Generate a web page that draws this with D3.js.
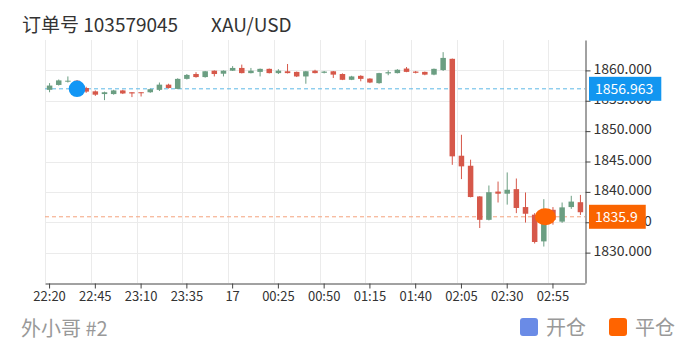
<!DOCTYPE html>
<html>
<head>
<meta charset="utf-8">
<style>
  body { margin: 0; background: #fff; }
  svg { font-family: "Microsoft YaHei", "Noto Sans CJK SC", sans-serif; }
</style>
</head>
<body>
<div id="chart"></div>
<script src="https://d3js.org/d3.v7.min.js"></script>
<script>
// 5 minute candles, 22:20 -> 03:10
const times = [
  "22:20","22:25","22:30","22:35","22:40","22:45","22:50","22:55","23:00","23:05",
  "23:10","23:15","23:20","23:25","23:30","23:35","23:40","23:45","23:50","23:55",
  "00:00","00:05","00:10","00:15","00:20","00:25","00:30","00:35","00:40","00:45",
  "00:50","00:55","01:00","01:05","01:10","01:15","01:20","01:25","01:30","01:35",
  "01:40","01:45","01:50","01:55","02:00","02:05","02:10","02:15","02:20","02:25",
  "02:30","02:35","02:40","02:45","02:50","02:55","03:00","03:05","03:10"
];
const opens = [
  1856.8, 1857.6, 1858.2, 1858.3, 1857.1, 1856.55, 1856.1, 1856.1, 1856.7, 1856.4,
  1856.4, 1856.4, 1856.8, 1857.65, 1856.95, 1858.6, 1859.4, 1858.9, 1859.95, 1859.45,
  1859.95, 1860.4, 1859.55, 1859.75, 1860.25, 1859.55, 1859.85, 1859.75, 1859.0, 1859.95,
  1859.6, 1859.85, 1859.4, 1858.45, 1859.1, 1858.65, 1857.9, 1859.5, 1859.55, 1860.3,
  1859.8, 1859.75, 1859.3, 1860.05, 1861.9, 1845.95, 1844.3, 1839.25, 1835.4, 1840.05,
  1839.7, 1840.45, 1837.5, 1836.25, 1831.85, 1837.05, 1835.1, 1837.5, 1838.3
];
const closes = [
  1857.5, 1858.35, 1858.3, 1857.0, 1856.5, 1856.0, 1856.4, 1856.7, 1856.2, 1856.2,
  1856.25, 1856.9, 1857.65, 1857.1, 1858.6, 1859.25, 1858.9, 1859.85, 1859.4, 1859.95,
  1860.4, 1859.55, 1859.95, 1860.25, 1859.55, 1859.95, 1859.55, 1859.0, 1859.85, 1859.55,
  1859.8, 1859.3, 1858.45, 1859.0, 1858.6, 1858.0, 1859.55, 1859.7, 1860.1, 1859.75,
  1859.6, 1859.3, 1860.25, 1862.05, 1845.85, 1844.2, 1839.15, 1835.4, 1839.95, 1839.7,
  1840.35, 1837.35, 1836.4, 1831.75, 1835.95, 1835.4, 1837.45, 1838.4, 1836.65
];
const lows = [
  1856.4, 1857.5, 1858.0, 1856.8, 1856.3, 1855.8, 1855.1, 1856.0, 1856.1, 1855.6,
  1855.7, 1856.3, 1856.6, 1857.0, 1856.9, 1858.5, 1858.8, 1858.8, 1859.0, 1859.0,
  1859.9, 1859.5, 1859.5, 1859.0, 1859.5, 1859.4, 1859.5, 1858.9, 1857.8, 1859.5,
  1859.5, 1858.75, 1858.4, 1858.4, 1858.2, 1857.9, 1857.8, 1859.2, 1859.5, 1859.7,
  1859.5, 1859.2, 1859.2, 1859.9, 1844.45, 1842.1, 1839.1, 1834.05, 1835.3, 1838.25,
  1837.9, 1836.5, 1834.95, 1831.5, 1831.0, 1834.6, 1834.9, 1837.2, 1836.2
];
const highs = [
  1857.9, 1858.5, 1859.0, 1858.4, 1857.3, 1856.7, 1856.5, 1856.8, 1856.8, 1856.4,
  1856.4, 1857.0, 1858.0, 1857.8, 1858.7, 1859.4, 1859.7, 1859.9, 1860.0, 1860.0,
  1860.7, 1860.95, 1860.4, 1860.3, 1860.3, 1860.2, 1861.05, 1859.8, 1859.9, 1860.1,
  1859.9, 1859.9, 1859.5, 1859.1, 1859.2, 1858.7, 1859.6, 1860.0, 1860.2, 1860.55,
  1859.9, 1859.8, 1860.3, 1863.0, 1861.95, 1849.4, 1845.3, 1839.3, 1841.05, 1841.7,
  1843.2, 1842.2, 1839.9, 1836.5, 1838.8, 1837.5, 1838.25, 1839.35, 1839.5
];

const tickTimes = ["22:20","22:45","23:10","23:35","00:00","00:25","00:50","01:15","01:40","02:05","02:30","02:55"];
const tickLabels = ["22:20","22:45","23:10","23:35","17","00:25","00:50","01:15","01:40","02:05","02:30","02:55"];
const yTicks = [1830, 1835, 1840, 1845, 1850, 1855, 1860];

const openTime = "22:35", openPrice = 1856.963;
const closeTime = "02:50", closePrice = 1835.9;

const width = 697, height = 349;
const plot = { left: 45, right: 585, top: 40, bottom: 283 };
const upColor = "#6b9e82", downColor = "#d6584a";

const svg = d3.select("#chart").append("svg")
  .attr("width", width)
  .attr("height", height);

const x = d3.scaleBand()
  .domain(times)
  .range([plot.left, plot.right]);

const y = d3.scaleLinear()
  .domain([1825, 1865])
  .range([plot.bottom, plot.top]);

// grid
svg.append("g")
  .selectAll("line")
  .data(yTicks)
  .join("line")
  .attr("x1", plot.left).attr("x2", plot.right)
  .attr("y1", d => Math.round(y(d)) + 0.5).attr("y2", d => Math.round(y(d)) + 0.5)
  .attr("stroke", "#ebebeb");

svg.append("g")
  .selectAll("line")
  .data(tickTimes)
  .join("line")
  .attr("x1", d => Math.round(x(d)) + 0.5).attr("x2", d => Math.round(x(d)) + 0.5)
  .attr("y1", plot.top).attr("y2", plot.bottom)
  .attr("stroke", "#ebebeb");

// axes
const xAxis = d3.axisBottom(x)
  .tickValues(tickTimes)
  .tickSize(5)
  .tickSizeOuter(0)
  .tickFormat((d, i) => tickLabels[i]);

const gx = svg.append("g")
  .attr("transform", `translate(0, ${plot.bottom + 0.5})`)
  .call(xAxis);
gx.select(".domain").attr("stroke", "#444");
gx.selectAll(".tick line").attr("stroke", "#444");
gx.selectAll(".tick text")
  .attr("fill", "#333")
  .style("font-size", "13px")
  .style("font-family", "\"Microsoft YaHei\", \"Noto Sans CJK SC\", sans-serif");

const yAxis = d3.axisRight(y)
  .tickValues(yTicks)
  .tickSize(5)
  .tickSizeOuter(0)
  .tickFormat(d3.format(".3f"));

const gy = svg.append("g")
  .attr("transform", `translate(${plot.right + 0.5}, 0)`)
  .call(yAxis);
gy.select(".domain").attr("stroke", "#444");
gy.selectAll(".tick line").attr("stroke", "#444");
gy.selectAll(".tick text")
  .attr("fill", "#333")
  .attr("dy", "0.2em")
  .style("font-size", "14px")
  .style("font-family", "\"Microsoft YaHei\", \"Noto Sans CJK SC\", sans-serif");

// price lines
svg.append("line")
  .attr("x1", plot.left).attr("x2", plot.right)
  .attr("y1", y(openPrice)).attr("y2", y(openPrice))
  .attr("stroke", "#5cb8e6")
  .attr("stroke-dasharray", "4,3");

svg.append("line")
  .attr("x1", plot.left).attr("x2", plot.right)
  .attr("y1", y(closePrice)).attr("y2", y(closePrice))
  .attr("stroke", "#f4a27c")
  .attr("stroke-dasharray", "4,3");

// candles
const candles = times.map((t, i) => ({ t, o: opens[i], c: closes[i], l: lows[i], h: highs[i] }));
const bw = 5.5;

const cg = svg.append("g")
  .selectAll("g")
  .data(candles)
  .join("g");

cg.append("line")
  .attr("x1", d => x(d.t) + x.bandwidth() / 2)
  .attr("x2", d => x(d.t) + x.bandwidth() / 2)
  .attr("y1", d => y(d.h))
  .attr("y2", d => y(d.l))
  .attr("stroke", d => d.c >= d.o ? upColor : downColor)
  .attr("stroke-width", 1);

cg.append("rect")
  .attr("x", d => x(d.t) + x.bandwidth() / 2 - bw / 2)
  .attr("width", bw)
  .attr("y", d => y(Math.max(d.o, d.c)))
  .attr("height", d => Math.max(1, Math.abs(y(d.o) - y(d.c))))
  .attr("fill", d => d.c >= d.o ? upColor : downColor);

// trade markers
svg.append("circle")
  .attr("cx", x(openTime) + x.bandwidth() / 2)
  .attr("cy", y(openPrice))
  .attr("r", 8.3)
  .attr("fill", "#1296f5");

svg.append("ellipse")
  .attr("cx", x(closeTime) + x.bandwidth() / 2 + 1.5)
  .attr("cy", y(closePrice))
  .attr("rx", 10.5)
  .attr("ry", 8.5)
  .attr("fill", "#ff6400");

// price tags on the axis
function priceTag(price, text, color) {
  const g = svg.append("g");
  const rect = g.append("rect")
    .attr("x", plot.right + 4)
    .attr("y", y(price) - 12)
    .attr("height", 24)
    .attr("fill", color);
  const label = g.append("text")
    .attr("x", plot.right + 10)
    .attr("y", y(price) + 5)
    .attr("fill", "#fff")
    .style("font-size", "14px")
    .text(text);
  rect.attr("width", label.node().getComputedTextLength() + 14);
}
priceTag(openPrice, "1856.963", "#1296f0");
priceTag(closePrice, "1835.9", "#fa6400");

// title
svg.append("text")
  .attr("x", 22).attr("y", 32)
  .attr("fill", "#333")
  .style("font-size", "19px")
  .text("订单号 103579045");
svg.append("text")
  .attr("x", 211).attr("y", 32)
  .attr("fill", "#333")
  .style("font-size", "19px")
  .text("XAU/USD");

// footer
svg.append("text")
  .attr("x", 21).attr("y", 336)
  .attr("fill", "#999")
  .style("font-size", "20px")
  .text("外小哥 #2");

const legend = [
  { name: "开仓", color: "#6a8be6", x: 520 },
  { name: "平仓", color: "#ff6400", x: 609 }
];
const lg = svg.append("g")
  .selectAll("g")
  .data(legend)
  .join("g");
lg.append("rect")
  .attr("x", d => d.x).attr("y", 318)
  .attr("width", 18).attr("height", 18)
  .attr("rx", 3)
  .attr("fill", d => d.color);
lg.append("text")
  .attr("x", d => d.x + 26).attr("y", 335)
  .attr("fill", "#999")
  .style("font-size", "20px")
  .text(d => d.name);
</script>
</body>
</html>
